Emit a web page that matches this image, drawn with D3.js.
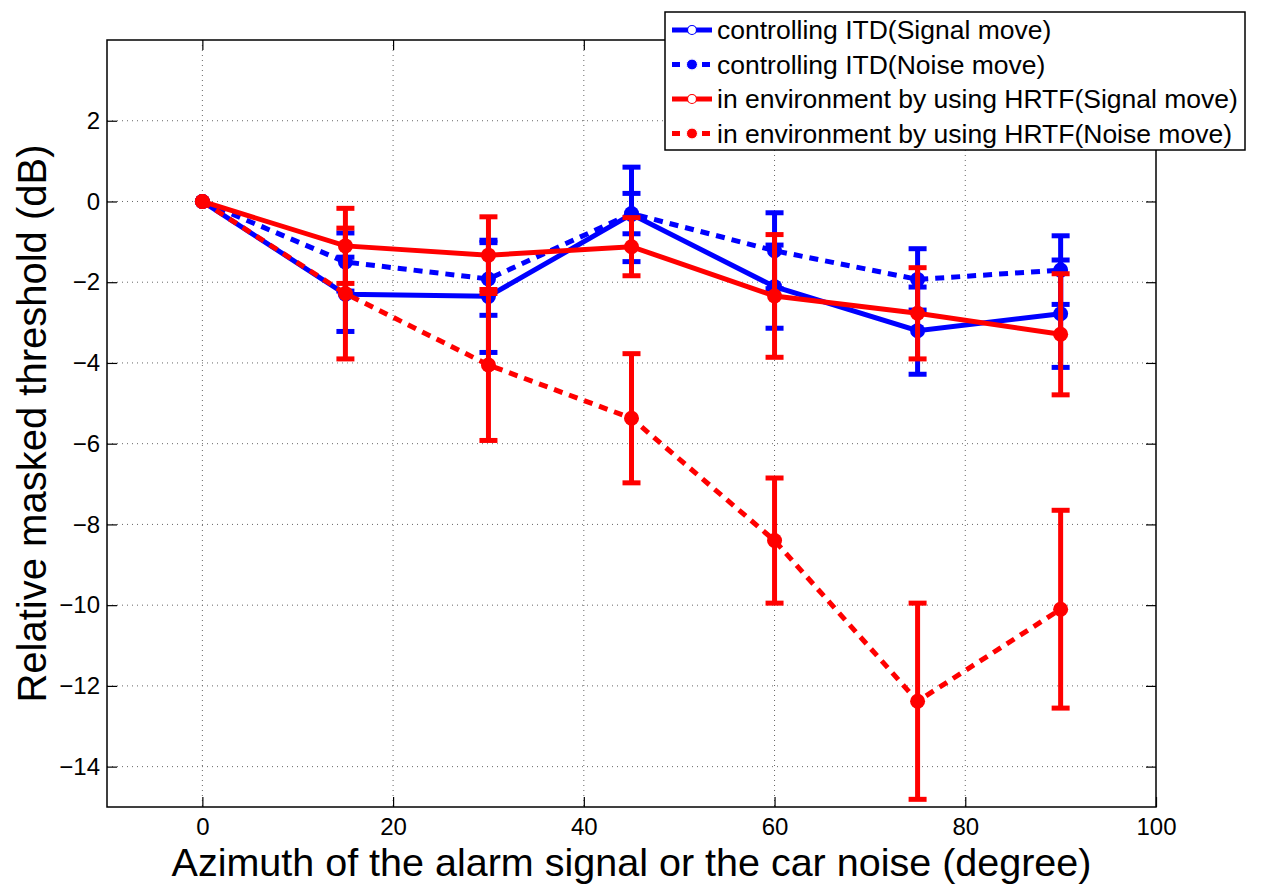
<!DOCTYPE html>
<html><head><meta charset="utf-8">
<script src="https://cdn.jsdelivr.net/npm/d3@7"></script>
<style>body{margin:0;background:#fff}svg{display:block}text{font-family:"Liberation Sans",Arial,Helvetica,sans-serif}</style>
</head><body>
<svg id="c" width="1261" height="884"></svg>
<script>
const azimuth = [0, 15, 30, 45, 60, 75, 90];
const itdSignal = [0, -2.3, -2.35, -0.32, -2.11, -3.2, -2.78];
const itdSignalErr = [0, 0.92, 1.39, 1.17, 1.03, 1.08, 1.33];
const itdNoise = [0, -1.5, -1.92, -0.3, -1.22, -1.93, -1.7];
const itdNoiseErr = [0, 0.72, 0.9, 0.5, 0.94, 0.76, 0.85];
const hrtfSignal = [0, -1.1, -1.33, -1.12, -2.34, -2.77, -3.29];
const hrtfSignalErr = [0, 0.93, 0.95, 0.72, 1.52, 1.13, 1.5];
const hrtfNoise = [0, -2.28, -4.05, -5.37, -8.4, -12.38, -10.1];
const hrtfNoiseErr = [0, 1.62, 1.87, 1.6, 1.55, 2.43, 2.45];
const seriesNames = ["controlling ITD(Signal move)", "controlling ITD(Noise move)",
  "in environment by using HRTF(Signal move)", "in environment by using HRTF(Noise move)"];
const xTicks = [0, 20, 40, 60, 80, 100];
const yTicks = [-14, -12, -10, -8, -6, -4, -2, 0, 2];
const xLabel = "Azimuth of the alarm signal or the car noise (degree)";
const yLabel = "Relative masked threshold (dB)";

const series = [
  {name: seriesNames[0], v: itdSignal, e: itdSignalErr, color: "#0000ff", dash: null},
  {name: seriesNames[1], v: itdNoise, e: itdNoiseErr, color: "#0000ff", dash: "9,7"},
  {name: seriesNames[2], v: hrtfSignal, e: hrtfSignalErr, color: "#ff0000", dash: null},
  {name: seriesNames[3], v: hrtfNoise, e: hrtfNoiseErr, color: "#ff0000", dash: "9,7"}
];

const L = 107, R = 1156, T = 40, B = 807;
const svg = d3.select("#c");
const x = d3.scaleLinear().domain([-10, 100]).range([L, R]);
const y = d3.scaleLinear().domain([-15, 4]).range([B, T]);
const fmt = d => d < 0 ? "\u2212" + Math.abs(d) : String(d);

// grid
const grid = svg.append("g");
grid.selectAll("line.gx").data(xTicks.filter(t => t > -10 && t < 100)).join("line")
  .attr("x1", d => x(d)).attr("x2", d => x(d)).attr("y1", T).attr("y2", B)
  .attr("stroke", "#666").attr("stroke-width", 1).attr("stroke-dasharray", "1,4");
grid.selectAll("line.gy").data(yTicks).join("line")
  .attr("y1", d => y(d)).attr("y2", d => y(d)).attr("x1", L).attr("x2", R)
  .attr("stroke", "#666").attr("stroke-width", 1).attr("stroke-dasharray", "1,4");

// axes with inward ticks
const tk = 10;
const gxB = svg.append("g").attr("transform", `translate(0,${B})`)
  .call(d3.axisBottom(x).tickValues(xTicks).tickSizeInner(-tk).tickSizeOuter(0).tickFormat(fmt));
const gxT = svg.append("g").attr("transform", `translate(0,${T})`)
  .call(d3.axisTop(x).tickValues(xTicks).tickSizeInner(-tk).tickSizeOuter(0).tickFormat(""));
const gyL = svg.append("g").attr("transform", `translate(${L},0)`)
  .call(d3.axisLeft(y).tickValues(yTicks).tickSizeInner(-tk).tickSizeOuter(0).tickPadding(7).tickFormat(fmt));
const gyR = svg.append("g").attr("transform", `translate(${R},0)`)
  .call(d3.axisRight(y).tickValues(yTicks).tickSizeInner(-tk).tickSizeOuter(0).tickFormat(""));
[gxB, gxT, gyL, gyR].forEach(g => {
  g.select(".domain").remove();
  g.selectAll(".tick line").attr("stroke", "#000").attr("stroke-width", 1.2);
  g.selectAll("text").attr("font-size", 24).attr("fill", "#000")
    .attr("font-family", '"Liberation Sans",Arial,sans-serif');
});
gxB.selectAll(".tick text").attr("y", 28).attr("dy", 0);
svg.append("rect").attr("x", L).attr("y", T).attr("width", R - L).attr("height", B - T)
  .attr("fill", "none").attr("stroke", "#000").attr("stroke-width", 1.5);

// series
const line = d3.line().x((d, i) => x(azimuth[i])).y(d => y(d));
series.forEach(s => {
  const g = svg.append("g");
  g.append("path").datum(s.v).attr("d", line).attr("fill", "none")
    .attr("stroke", s.color).attr("stroke-width", 5).attr("stroke-dasharray", s.dash);
  const pts = azimuth.map((a, i) => ({a, v: s.v[i], e: s.e[i]})).filter(p => p.e > 0);
  g.selectAll("line.eb").data(pts).join("line")
    .attr("x1", p => x(p.a)).attr("x2", p => x(p.a))
    .attr("y1", p => y(p.v + p.e)).attr("y2", p => y(p.v - p.e))
    .attr("stroke", s.color).attr("stroke-width", 5);
  ["+", "-"].forEach(sg => {
    g.selectAll("line.cap" + (sg === "+" ? "u" : "d")).data(pts).join("line")
      .attr("x1", p => x(p.a) - 9).attr("x2", p => x(p.a) + 9)
      .attr("y1", p => y(sg === "+" ? p.v + p.e : p.v - p.e))
      .attr("y2", p => y(sg === "+" ? p.v + p.e : p.v - p.e))
      .attr("stroke", s.color).attr("stroke-width", 5);
  });
  g.selectAll("circle").data(s.v).join("circle")
    .attr("cx", (d, i) => x(azimuth[i])).attr("cy", d => y(d)).attr("r", 7.5)
    .attr("fill", s.color);
});

// legend
const lg = svg.append("g");
lg.append("rect").attr("x", 665).attr("y", 12).attr("width", 580).attr("height", 138)
  .attr("fill", "#fff").attr("stroke", "#000").attr("stroke-width", 1.5);
series.forEach((s, i) => {
  const yy = 30 + i * 34.5;
  lg.append("line").attr("x1", 672).attr("x2", 712).attr("y1", yy).attr("y2", yy)
    .attr("stroke", s.color).attr("stroke-width", 5).attr("stroke-dasharray", s.dash ? "8,7" : null);
  if (s.dash) {
    lg.append("circle").attr("cx", 692).attr("cy", yy).attr("r", 5)
      .attr("fill", s.color).attr("stroke", s.color).attr("stroke-opacity", 0.5).attr("stroke-width", 1.5);
    lg.append("circle").attr("cx", 692).attr("cy", yy).attr("r", 5.5)
      .attr("fill", "none").attr("stroke", "#fff").attr("stroke-width", 1);
  } else {
    lg.append("circle").attr("cx", 692).attr("cy", yy).attr("r", 4.5)
      .attr("fill", "#fff").attr("stroke", s.color).attr("stroke-width", 1.2);
  }
  lg.append("text").attr("x", 717).attr("y", yy + 9).attr("font-size", 26.5).text(s.name);
});

// labels
svg.append("text").attr("x", (L + R) / 2).attr("y", 876).attr("text-anchor", "middle")
  .attr("font-size", 39.5).text(xLabel);
svg.append("text").attr("transform", `translate(46,${(T + B) / 2}) rotate(-90)`)
  .attr("text-anchor", "middle").attr("font-size", 40).text(yLabel);
</script>
</body></html>
